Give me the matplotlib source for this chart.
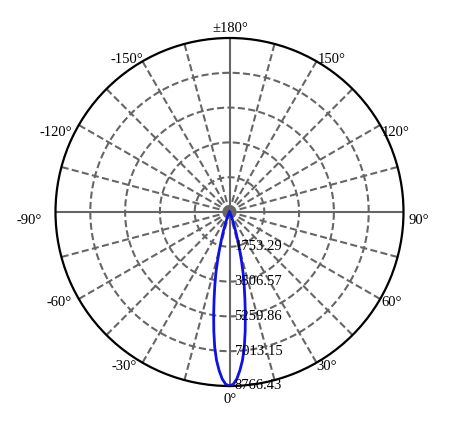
import numpy as np
import matplotlib.pyplot as plt

plt.rcParams['font.family'] = ['Liberation Serif', 'DejaVu Serif']

# intensity distribution (cd)
angles = [-90, -40, -35, -30, -27.5, -25, -22.5, -20, -17.5, -16.25, -15, -13.75, -12.5, -11.25,
          -10, -8.75, -7.5, -6.25, -5, -3.75, -2.5, -1.25,
          0, 1.25, 2.5, 3.75, 5, 6.25, 7.5, 8.75, 10, 11.25, 12.5, 13.75, 15, 16.25, 17.5,
          20, 22.5, 25, 27.5, 30, 35, 40, 90]
intensity = [0, 0, 5, 20, 50, 120, 270, 570, 1100, 1480, 1950, 2550, 3200, 3800,
             4470, 5250, 6050, 6850, 7500, 8000, 8420, 8680,
             8766.43, 8680, 8420, 8000, 7500, 6850, 6050, 5250, 4470, 3800, 3200, 2550, 1950, 1480, 1100,
             570, 270, 120, 50, 20, 5, 0, 0]

r_ticks = [1753.29, 3506.57, 5259.86, 7013.15, 8766.43]
theta_labels = [0, 30, 60, 90, 120, 150, 180, -150, -120, -90, -60, -30]

W, H = 465, 427
cx, cy, R = 229.5, 214, 174
fig = plt.figure(figsize=(W / 100, H / 100), dpi=100)
ax = fig.add_axes([(cx - R) / W, (cy - R) / H, 2 * R / W, 2 * R / H], projection='polar')
ax.set_theta_zero_location('S')
ax.set_theta_direction(1)
rmax = r_ticks[-1]
ax.set_ylim(0, rmax)
ax.grid(False)
ax.set_xticks([])
ax.set_yticks([])
ax.spines['polar'].set_color('black')
ax.spines['polar'].set_linewidth(1.6)

gray = '#666666'
dash = (3.4, 1.6)
# spokes every 15 deg, main axes solid
for a in range(0, 360, 15):
    t = np.deg2rad(a)
    if a % 90 == 0:
        ax.plot([t, t], [0, rmax], color=gray, lw=1.5, zorder=1)
    else:
        ax.plot([t, t], [0, rmax], color=gray, lw=1.5, dashes=dash, zorder=1)
tt = np.linspace(0, 2 * np.pi, 361)
for rv in r_ticks[:-1]:
    ax.plot(tt, np.full_like(tt, rv), color=gray, lw=1.5, dashes=dash, zorder=1)

# curve
th = np.deg2rad(angles)
ax.plot(th, intensity, color='#1010e8', lw=2, zorder=3)

# radial labels
for rv in r_ticks:
    ax.annotate('%.2f' % rv, xy=(0, rv), xytext=(5, 1), textcoords='offset pixels',
                ha='left', va='center', fontsize=10.5, zorder=4)

# angle labels: (ha, va, pixel offset from the rim point)
lab_pos = {180: ('center', 'center', (1, 11)), 150: ('left', 'center', (1, 3)),
           120: ('left', 'center', (2, -6)), 90: ('left', 'center', (5, -8)),
           60: ('left', 'center', (1, -2)), 30: ('left', 'center', (0, -3)),
           0: ('center', 'center', (1, -13)), -30: ('right', 'center', (-6, -3)),
           -60: ('right', 'center', (-7, -2)), -90: ('right', 'center', (-14, -8)),
           -120: ('right', 'center', (-7, -7)), -150: ('right', 'center', (1, 3))}
for a in theta_labels:
    t = np.deg2rad(a)
    txt = '±180°' if a == 180 else '%d°' % a
    ha, va, off = lab_pos[a]
    ax.annotate(txt, xy=(t, rmax), xytext=off, textcoords='offset pixels',
                ha=ha, va=va, fontsize=10.5, annotation_clip=False)

fig.savefig('out.png', dpi=100)
